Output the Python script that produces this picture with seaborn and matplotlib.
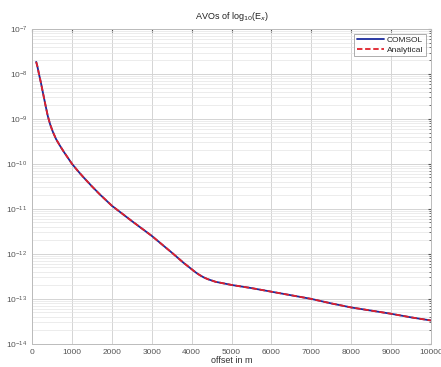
import numpy as np
import pandas as pd
import matplotlib
matplotlib.use("Agg")
import matplotlib.pyplot as plt
import matplotlib.ticker as mticker
import seaborn as sns

# offset in m and log10(Ex)
offset = [100, 130, 170, 220, 270, 330, 390, 450, 520, 600, 700, 800, 900,
          1000, 1150, 1300, 1500, 1700, 2000, 2500, 3000, 3500, 3800, 4000,
          4100, 4200, 4300, 4400, 4600, 5000, 5500, 6000, 6500, 7000, 7500,
          8000, 8500, 9000, 9500, 10000]
comsol_log = [-7.73, -7.83, -8.0, -8.2, -8.42, -8.68, -8.93, -9.12, -9.29,
              -9.45, -9.6, -9.74, -9.87, -10.0, -10.16, -10.31, -10.5, -10.68,
              -10.93, -11.27, -11.6, -11.97, -12.2, -12.34, -12.41, -12.47,
              -12.52, -12.56, -12.62, -12.69, -12.76, -12.84, -12.92, -13.0,
              -13.1, -13.19, -13.26, -13.33, -13.41, -13.48]
analytical_log = list(comsol_log)

df = pd.DataFrame({
    "offset": offset * 2,
    "Ex": list(10.0 ** np.array(comsol_log)) + list(10.0 ** np.array(analytical_log)),
    "serie": ["COMSOL"] * len(offset) + ["Analytical"] * len(offset),
})

sns.set_style("white")
plt.rcParams["font.family"] = ["Liberation Sans", "DejaVu Sans"]

fig = plt.figure(figsize=(4.41, 3.67), dpi=100)
ax = fig.add_axes([0.073, 0.063, 0.904, 0.858])

sns.lineplot(data=df, x="offset", y="Ex", hue="serie", style="serie",
             palette={"COMSOL": "#1a2a9c", "Analytical": "#e0202a"},
             dashes={"COMSOL": "", "Analytical": (3, 1.5)},
             linewidth=1.3, ax=ax)

ax.set_yscale("log")
ax.set_xlim(0, 10000)
ax.set_ylim(1e-14, 1e-7)
ax.set_xticks(range(0, 10001, 1000))
ax.yaxis.set_major_locator(mticker.LogLocator(base=10, numticks=10))
ax.yaxis.set_minor_locator(mticker.LogLocator(base=10, subs=np.arange(2, 10), numticks=10))
ax.yaxis.set_minor_formatter(mticker.NullFormatter())

ax.grid(True, which="major", color="#d4d4d4", linewidth=0.7)
ax.grid(True, which="minor", axis="y", color="#e4e4e4", linewidth=0.5)
ax.tick_params(which="both", direction="in", labelsize=6, colors="#555555",
               top=True, right=True, length=2.5)
ax.tick_params(which="minor", length=1.5)
for s in ax.spines.values():
    s.set_color("#bbbbbb")
    s.set_linewidth(0.7)

ax.set_title("AVOs of log$_{10}$(E$_x$)", fontsize=6.5, pad=7, color="#222222")
ax.set_xlabel("offset in m", fontsize=6.5, labelpad=0, color="#333333")
ax.set_ylabel("")

leg = ax.legend(loc="upper right", fontsize=6, frameon=True, fancybox=False,
                borderpad=0.3, handlelength=3.2, handletextpad=0.4,
                labelspacing=0.2, borderaxespad=0.6)
leg.get_frame().set_edgecolor("#888888")
leg.get_frame().set_linewidth(0.6)

fig.savefig("out.png", dpi=100)
